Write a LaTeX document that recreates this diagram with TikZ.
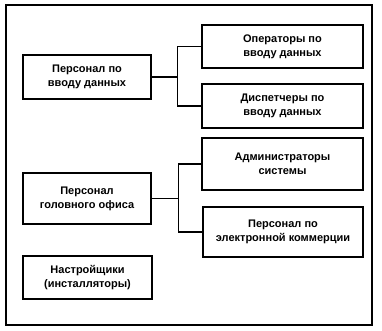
\documentclass[tikz,border=0pt]{standalone}
\usepackage{fontspec}
\setmainfont{Liberation Sans}
\begin{document}
\begin{tikzpicture}[x=1pt,y=-1pt,
  box/.style={draw,line width=1.4pt,align=center,inner sep=0pt,
    font=\bfseries\fontsize{11}{14}\selectfont},
  conn/.style={line width=1.4pt}]
\useasboundingbox (0,0) rectangle (382,330);
\draw[line width=1.5pt] (6,5) rectangle (372,325);
\node[box,minimum width=128pt,minimum height=44pt] (b1) at (87,77) {Персонал по\\вводу данных};
\node[box,minimum width=161pt,minimum height=43pt] (op) at (282.5,46.5) {Операторы по\\вводу данных};
\node[box,minimum width=161pt,minimum height=44pt] (dp) at (282.5,106) {Диспетчеры по\\вводу данных};
\node[box,minimum width=161pt,minimum height=52pt] (ad) at (282.5,164) {Администраторы\\системы};
\node[box,minimum width=160pt,minimum height=50pt] (ec) at (283,232) {Персонал по\\электронной коммерции};
\node[box,minimum width=128pt,minimum height=51pt] (hq) at (87,198.5) {Персонал\\головного офиса};
\node[box,minimum width=129pt,minimum height=43pt] (in) at (87.5,277.5) {Настройщики\\(инсталляторы)};
\draw[conn] (b1.east) -- ++(26,0) coordinate (j1);
\draw[conn] (op.west) -| (j1) |- (dp.west);
\draw[conn] (hq.east) -- ++(27,0) coordinate (j2);
\draw[conn] (ad.west) -| (j2) |- (ec.west);
\end{tikzpicture}
\end{document}
